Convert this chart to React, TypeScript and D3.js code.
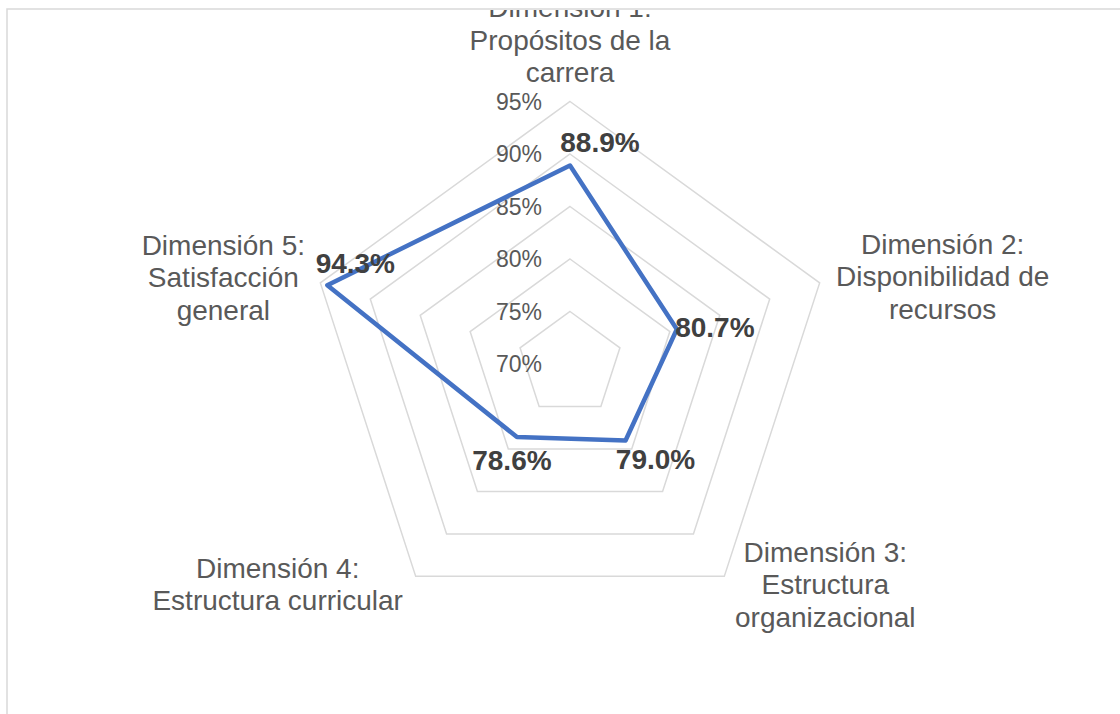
import React from "react";
import * as d3 from "d3";

const categories = [
  "Dimensión 1: Propósitos de la carrera",
  "Dimensión 2: Disponibilidad de recursos",
  "Dimensión 3: Estructura organizacional",
  "Dimensión 4: Estructura curricular",
  "Dimensión 5: Satisfacción general",
];
const categoryLines = [
  ["Dimensión 1:", "Propósitos de la", "carrera"],
  ["Dimensión 2:", "Disponibilidad de", "recursos"],
  ["Dimensión 3:", "Estructura", "organizacional"],
  ["Dimensión 4:", "Estructura curricular"],
  ["Dimensión 5:", "Satisfacción", "general"],
];
const values = [0.889, 0.807, 0.79, 0.786, 0.943];
const ticks = [0.7, 0.75, 0.8, 0.85, 0.9, 0.95];

const W = 1120;
const H = 714;
const cx = 570;
const cy = 364;
const R = 262.5;
const LINE = 32.5;

// layout: category label center x / first baseline relative to outer vertex
const catOffsets: [number, number][] = [
  [0, -84.5],
  [123, -29],
  [101, -14.5],
  [-138, 1.5],
  [-97, -28],
];
// layout: data label center relative to point
const lblOffsets: [number, number][] = [
  [30, -14],
  [38, 8],
  [30, 29],
  [-5, 33],
  [28, -12],
];

export default function App() {
  const r = d3.scaleLinear().domain([0.7, 0.95]).range([0, R]);
  const angle = d3
    .scaleLinear()
    .domain([0, categories.length])
    .range([0, 2 * Math.PI]);
  const pt = (i: number, v: number): [number, number] => {
    const a = angle(i);
    return [cx + r(v) * Math.sin(a), cy - r(v) * Math.cos(a)];
  };
  const ringPath = (v: number) =>
    d3.line()(categories.map((_, i) => pt(i, v))) + "Z";
  const dataPath =
    d3
      .line()
      .curve(d3.curveLinearClosed)(values.map((v, i) => pt(i, v)));
  const fmt = d3.format(".1%");
  const tickFmt = d3.format(".0%");
  const font = "'Liberation Sans', Arial, sans-serif";

  return (
    <svg
      width={W}
      height={H}
      style={{ position: "absolute", left: 0, top: 0, background: "#fff" }}
      fontFamily={font}
    >
      <defs>
        <clipPath id="plot">
          <rect x={8} y={10} width={W} height={H} />
        </clipPath>
      </defs>
      <rect x={0} y={0} width={W} height={H} fill="#fff" />
      <rect
        x={7}
        y={9}
        width={W + 20}
        height={H + 20}
        fill="none"
        stroke="#d9d9d9"
        strokeWidth={1.5}
      />
      <g clipPath="url(#plot)">
        {ticks
          .filter((t) => t > 0.7)
          .map((t) => (
            <path
              key={t}
              d={ringPath(t)}
              fill="none"
              stroke="#d9d9d9"
              strokeWidth={1.5}
            />
          ))}
        {ticks.map((t) => (
          <text
            key={"t" + t}
            x={542}
            y={cy - r(t)}
            dy="0.35em"
            textAnchor="end"
            fontSize={23}
            fill="#595959"
          >
            {tickFmt(t)}
          </text>
        ))}
        {categoryLines.map((lines, i) => {
          const [vx, vy] = pt(i, 0.95);
          const [ox, oy] = catOffsets[i];
          return (
            <text
              key={"c" + i}
              x={vx + ox}
              y={vy + oy}
              textAnchor="middle"
              fontSize={28}
              fill="#595959"
            >
              {lines.map((l, j) => (
                <tspan key={j} x={vx + ox} y={vy + oy + j * LINE}>
                  {l}
                </tspan>
              ))}
            </text>
          );
        })}
        <path
          d={dataPath || ""}
          fill="none"
          stroke="#4472C4"
          strokeWidth={4.5}
          strokeLinejoin="round"
        />
        {values.map((v, i) => {
          const [px, py] = pt(i, v);
          const [ox, oy] = lblOffsets[i];
          return (
            <text
              key={"v" + i}
              x={px + ox}
              y={py + oy}
              textAnchor="middle"
              fontSize={28}
              fontWeight="bold"
              fill="#404040"
            >
              {fmt(v)}
            </text>
          );
        })}
      </g>
    </svg>
  );
}
